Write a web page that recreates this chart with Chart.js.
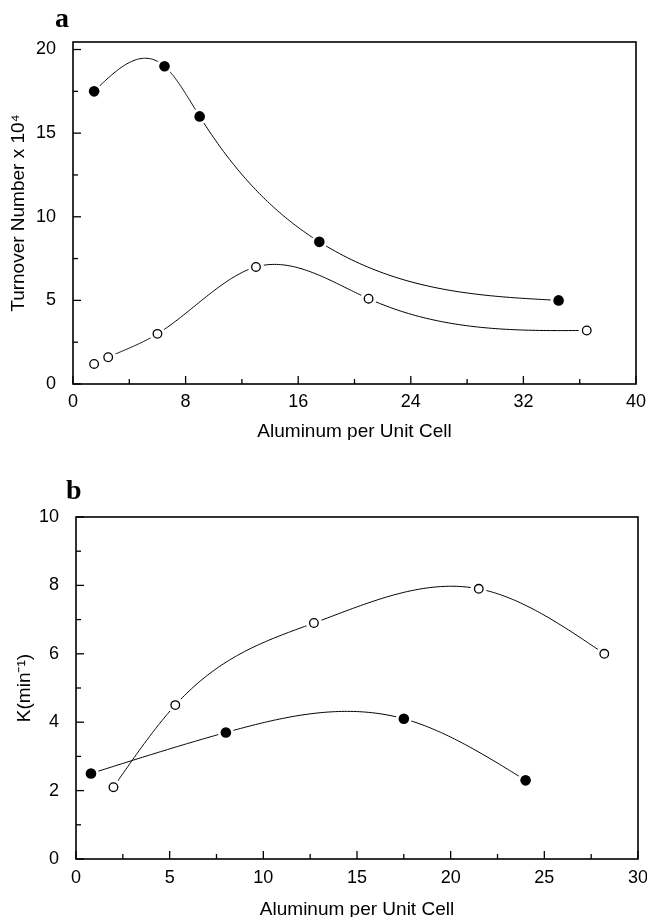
<!DOCTYPE html>
<html>
<head>
<meta charset="utf-8">
<script src="https://cdn.jsdelivr.net/npm/chart.js@4.4.1/dist/chart.umd.min.js"></script>
<style>
    body { margin: 0; background: #fff; }
    #wrap { position: relative; width: 647px; height: 917px; }
    .panel { position: absolute; left: 0; width: 647px; }
    .letter { position: absolute; font-family: "Liberation Serif", serif; font-weight: bold; font-size: 28px; color: #000; }
</style>
</head>
<body>
<div id="wrap">
    <div class="panel" style="top:0;height:440px"><canvas id="chartA" width="647" height="440"></canvas></div>
    <div class="panel" style="top:440px;height:477px"><canvas id="chartB" width="647" height="477"></canvas></div>
    <div class="letter" style="left:55px;top:2px">a</div>
    <div class="letter" style="left:66px;top:474px">b</div>
</div>
<script>
// panel a - turnover number vs Al per unit cell
var alA_filled = [1.5, 6.5, 9, 17.5, 34.5];
var tonA_filled = [17.5, 19, 16, 8.5, 5];
var alA_open = [1.5, 2.5, 6, 13, 21, 36.5];
var tonA_open = [1.2, 1.6, 3, 7, 5.1, 3.2];

// panel b - K(min-1) vs Al per unit cell
var alB_open = [2, 5.3, 12.7, 21.5, 28.2];
var kB_open = [2.1, 4.5, 6.9, 7.9, 6.0];
var alB_filled = [0.8, 8, 17.5, 24];
var kB_filled = [2.5, 3.7, 4.1, 2.3];

var FONT = "'Liberation Sans', Arial, sans-serif";

function toPoints(xs, ys) {
    var pts = [];
    for (var i = 0; i < xs.length; i++) {
        pts.push({x: xs[i], y: ys[i]});
    }
    return pts;
}

// white halo under the marker (gives the gap in the line) + the marker itself
function series(xs, ys, filled) {
    var pts = toPoints(xs, ys);
    return [
        {data: pts, showLine: false, pointRadius: 8, pointBackgroundColor: '#fff', pointBorderWidth: 0, pointBorderColor: '#fff', order: 2},
        {data: pts, showLine: false, spline: true, pointRadius: filled ? 5.3 : 4.3,
            pointBackgroundColor: filled ? '#000' : '#fff', pointBorderColor: '#000',
            pointBorderWidth: filled ? 0 : 1.3, order: 1}
    ];
}

// natural cubic spline second derivatives
function splineM(xs, ys) {
    var n = xs.length, m = new Array(n).fill(0);
    if (n < 3) return m;
    var a = [], b = [], c = [], d = [];
    for (var i = 1; i < n - 1; i++) {
        var h0 = xs[i] - xs[i - 1], h1 = xs[i + 1] - xs[i];
        a.push(h0); b.push(2 * (h0 + h1)); c.push(h1);
        d.push(6 * ((ys[i + 1] - ys[i]) / h1 - (ys[i] - ys[i - 1]) / h0));
    }
    // thomas
    for (var k = 1; k < b.length; k++) {
        var w = a[k] / b[k - 1];
        b[k] -= w * c[k - 1];
        d[k] -= w * d[k - 1];
    }
    var sol = new Array(b.length);
    sol[b.length - 1] = d[b.length - 1] / b[b.length - 1];
    for (var k2 = b.length - 2; k2 >= 0; k2--) {
        sol[k2] = (d[k2] - c[k2] * sol[k2 + 1]) / b[k2];
    }
    for (var j = 0; j < sol.length; j++) m[j + 1] = sol[j];
    return m;
}

// draws the smooth curve through each marker dataset, under the markers
var splinePlugin = {
    id: 'spline',
    beforeDatasetsDraw: function (chart) {
        var ctx = chart.ctx, xs = chart.scales.x, ys = chart.scales.y;
        ctx.save();
        ctx.strokeStyle = '#000';
        ctx.lineWidth = 1;
        chart.data.datasets.forEach(function (ds) {
            if (!ds.spline) return;
            var px = ds.data.map(function (p) { return p.x; });
            var py = ds.data.map(function (p) { return p.y; });
            var m = splineM(px, py);
            ctx.beginPath();
            for (var i = 0; i < px.length - 1; i++) {
                var h = px[i + 1] - px[i];
                for (var s = 0; s <= 60; s++) {
                    var t = px[i] + h * s / 60;
                    var A = (px[i + 1] - t) / h, B = (t - px[i]) / h;
                    var v = A * py[i] + B * py[i + 1] + ((A * A * A - A) * m[i] + (B * B * B - B) * m[i + 1]) * h * h / 6;
                    var X = xs.getPixelForValue(t), Y = ys.getPixelForValue(v);
                    if (i === 0 && s === 0) ctx.moveTo(X, Y); else ctx.lineTo(X, Y);
                }
            }
            ctx.stroke();
        });
        ctx.restore();
    }
};

// box round the plot + inward ticks on left and bottom
var framePlugin = {
    id: 'frame',
    afterDraw: function (chart) {
        var ctx = chart.ctx;
        var a = chart.chartArea;
        var opts = chart.options.plugins.frame;
        ctx.save();
        ctx.strokeStyle = '#000';
        ctx.lineWidth = 1.6;
        ctx.strokeRect(a.left, a.top, a.right - a.left, a.bottom - a.top);
        ctx.lineWidth = 1.3;
        var xs = chart.scales.x, ys = chart.scales.y;
        xs.ticks.forEach(function (t) {
            var px = xs.getPixelForValue(t.value);
            var major = Math.abs(t.value / opts.xMajor - Math.round(t.value / opts.xMajor)) < 1e-6;
            ctx.beginPath();
            ctx.moveTo(px, a.bottom);
            ctx.lineTo(px, a.bottom - (major ? 8 : 5));
            ctx.stroke();
        });
        ys.ticks.forEach(function (t) {
            var py = ys.getPixelForValue(t.value);
            var major = Math.abs(t.value / opts.yMajor - Math.round(t.value / opts.yMajor)) < 1e-6;
            ctx.beginPath();
            ctx.moveTo(a.left, py);
            ctx.lineTo(a.left + (major ? 8 : 5), py);
            ctx.stroke();
        });
        ctx.restore();
    }
};

function majorOnly(step) {
    return function (v) {
        return Math.abs(v / step - Math.round(v / step)) < 1e-6 ? String(v) : '';
    };
}

function makeChart(id, datasets, cfg) {
    return new Chart(document.getElementById(id), {
        type: 'scatter',
        data: {datasets: datasets},
        plugins: [splinePlugin, framePlugin],
        options: {
            responsive: false,
            animation: false,
            events: [],
            layout: {padding: {top: cfg.top, right: cfg.right, left: 0, bottom: 0}},
            plugins: {
                legend: {display: false},
                tooltip: {enabled: false},
                frame: {xMajor: cfg.xMajor, yMajor: cfg.yMajor}
            },
            scales: {
                x: {
                    type: 'linear', min: cfg.xMin, max: cfg.xMax,
                    grid: {display: false}, border: {display: false},
                    ticks: {stepSize: cfg.xStep, autoSkip: false, maxRotation: 0, padding: cfg.xTickPad,
                        color: '#000', font: {family: FONT, size: 18}, callback: majorOnly(cfg.xMajor)},
                    title: {display: true, text: 'Aluminum per Unit Cell', color: '#000',
                        font: {family: FONT, size: 19}, padding: {top: 0, bottom: cfg.xTitlePad}},
                    afterFit: function (s) { s.height = cfg.xHeight; s.paddingLeft = 0; s.paddingRight = 0; }
                },
                y: {
                    type: 'linear', min: 0, max: cfg.yMax,
                    grid: {display: false}, border: {display: false},
                    ticks: {stepSize: cfg.yStep, includeBounds: false, autoSkip: false, padding: 9,
                        color: '#000', font: {family: FONT, size: 18}, callback: majorOnly(cfg.yMajor)},
                    title: {display: true, text: cfg.yTitle, color: '#000',
                        font: {family: FONT, size: 19}, padding: {top: cfg.yTitlePad, bottom: 0}},
                    afterFit: function (s) { s.width = cfg.yWidth; s.paddingTop = 0; s.paddingBottom = 0; }
                }
            }
        }
    });
}

var dsA = series(alA_filled, tonA_filled, true).concat(series(alA_open, tonA_open, false));
makeChart('chartA', dsA, {
    top: 42, right: 11, xHeight: 56, yWidth: 73,
    xMin: 0, xMax: 40, xStep: 4, xMajor: 8,
    yMax: 20.45, yStep: 2.5, yMajor: 5,
    yTitle: 'Turnover Number x 10\u2074', xTickPad: -1, xTitlePad: -3, yTitlePad: 7
});

var dsB = series(alB_open, kB_open, false).concat(series(alB_filled, kB_filled, true));
makeChart('chartB', dsB, {
    top: 77, right: 9, xHeight: 58, yWidth: 76,
    xMin: 0, xMax: 30, xStep: 2.5, xMajor: 5,
    yMax: 10, yStep: 1, yMajor: 2,
    yTitle: 'K(min\u207B\u00B9)', xTickPad: 0, xTitlePad: -4, yTitlePad: 13
});
</script>
</body>
</html>
